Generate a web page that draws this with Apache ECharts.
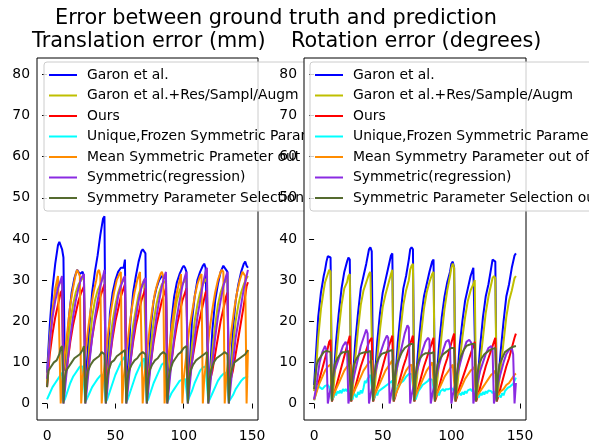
<!DOCTYPE html>
<html>
<head>
<meta charset="utf-8">
<script src="https://cdn.jsdelivr.net/npm/echarts@6/dist/echarts.min.js"></script>
<style>
html,body{margin:0;padding:0;background:#fff;}
#chart{width:589px;height:446px;}
</style>
</head>
<body>
<div id="chart"></div>
<script>
// ---------- text ----------
var supTitle = 'Error between ground truth and prediction';
var leftTitle = 'Translation error (mm)';
var rightTitle = 'Rotation error (degrees)';
var leftNames = ['Garon et al.', 'Garon et al.+Res/Sampl/Augm', 'Ours', 'Unique,Frozen Symmetric Parameter', 'Mean Symmetric Prameter out of', 'Symmetric(regression)', 'Symmetry Parameter Selection out of'];
var rightNames = ['Garon et al.', 'Garon et al.+Res/Sample/Augm', 'Ours', 'Unique,Frozen Symmetric Parameter', 'Mean Symmetry Parameter out of', 'Symmetric(regression)', 'Symmetric Parameter Selection out of'];
var xTicks = [0, 50, 100, 150];
var yTicks = [0, 10, 20, 30, 40, 50, 60, 70, 80];

// ---------- translation error (mm), [frame, value] ----------
var tGaron = [[0,7.5],[2,19],[4,28],[6,34],[8,38.5],[9,39.3],[10,39],[11,37.5],[12,35.5],[13,8],
[14,11],[16,21],[18,27],[20,30.5],[22,32.5],[23,32.3],[24,31.5],[26,32],[27,31],[28,4],
[29,9],[31,19],[33,27],[35,32],[37,36],[39,41],[41,45],[42,45.5],[43,5],
[44,7],[46,22],[48,27],[50,30],[52,32],[54,33],[56,33],[57,35],[58,4],
[59,7],[61,20],[63,27],[65,31],[67,34.5],[69,37],[70,37.5],[71,37.6],[72,36.5],[73,4],
[74,6],[76,19],[78,25],[80,28],[82,30],[84,31],[86,30.5],[87,31],[88,4],
[89,6],[91,20],[93,26],[95,29.5],[97,31.5],[99,33],[100,33.5],[101,33],[102,32],[103,4],
[104,6],[106,20],[108,26],[110,30],[112,32],[114,33.5],[115,34],[116,33],[117,33],[118,4],
[119,6],[121,18],[123,25],[125,29],[127,32],[129,33.5],[130,33.2],[131,32.5],[132,32],[133,4],
[134,6],[136,18],[138,25],[140,29],[142,32],[144,34],[145,34.5],[146,33.5],[147,33]];
var tGaronRes = [[0,6],[2,16],[4,23],[6,27],[8,29],[10,29.5],[11,30],[12,3],
[13,5],[15,14],[17,20],[19,24],[21,27],[23,29],[25,30],[27,31],[28,3],
[29,5],[31,14],[33,21],[35,25],[37,27.5],[39,29],[41,31],[42,31.5],[43,3],
[44,5],[46,15],[48,20],[50,24],[52,27],[54,29],[56,30],[57,30.5],[58,3],
[59,5],[61,13],[63,19],[65,23],[67,26.5],[69,28.5],[71,30],[72,30],[73,3],
[74,5],[76,14],[78,20],[80,24],[82,27],[84,29],[86,29.5],[87,30],[88,3],
[89,5],[91,15],[93,21],[95,25],[97,27.5],[99,29],[101,30],[102,30.5],[103,3],
[104,5],[106,14],[108,20],[110,24],[112,27],[114,29],[116,30],[117,30.5],[118,3],
[119,5],[121,13],[123,19],[125,24],[127,27],[129,29],[131,30],[132,31],[133,3],
[134,5],[136,14],[138,20],[140,24],[142,27],[144,29],[146,30.5],[147,31]];
var tOurs = [[0,4],[2,12],[4,17],[6,21],[8,24],[10,27],[11,27.5],[12,4],
[13,5],[15,10],[17,15],[19,19],[21,22],[23,25],[25,27],[27,28.5],[28,4],
[29,5],[31,11],[33,16],[35,20],[37,23],[39,26],[41,28],[42,29],[43,4],
[44,5],[46,11],[48,16],[50,20],[52,23],[54,26],[56,28],[57,29],[58,4],
[59,5],[61,10],[63,15],[65,19],[67,22],[69,25],[71,27],[72,28],[73,4],
[74,5],[76,10],[78,15],[80,19],[82,22],[84,25],[86,27],[87,28],[88,4],
[89,5],[91,10],[93,15],[95,19],[97,22],[99,25],[101,27],[102,28],[103,4],
[104,5],[106,10],[108,14],[110,18],[112,21],[114,24],[116,27],[117,27.5],[118,4],
[119,4],[121,8],[123,12],[125,16],[127,20],[129,23],[131,26],[132,27],[133,4],
[134,4],[136,8],[138,12],[140,16],[142,20],[144,24],[146,28.5],[147,29.5]];
var tUnique = [[0,1],[2,2.5],[4,4],[6,5],[8,6],[10,7],[11,7.5],[12,0.5],
[13,1],[15,3],[17,5],[19,6.5],[21,7.5],[23,8.5],[24,9],[26,9],[27,9.2],[28,0.5],
[29,1],[31,2.5],[33,4],[35,5],[37,6],[39,6.8],[41,7],[42,7],[43,0.5],
[44,1],[46,3],[48,5],[50,7],[52,8.5],[54,10],[56,11],[57,11.5],[58,0.5],
[59,1],[61,3],[63,5],[65,7],[67,8.5],[69,10],[71,11],[72,11.2],[73,0.5],
[74,1],[76,3],[78,5],[80,6.5],[82,8],[84,9.5],[86,10],[87,10.5],[88,0.5],
[89,1],[91,2.5],[93,3.5],[95,4.5],[97,5.5],[99,5.8],[101,6],[102,6.2],[103,0.5],
[104,1.5],[106,3],[108,5],[110,6.5],[112,8],[114,8.8],[116,9],[117,9],[118,0.5],
[119,1],[121,2.5],[123,4],[125,5.5],[127,6.5],[129,7.2],[131,7.5],[132,7.5],[133,0.5],
[134,1],[136,2],[138,3.5],[140,4.5],[142,5.5],[144,6.2],[146,6.5],[147,6.3]];
var tMean = [[0,5],[2,14],[4,22],[6,28],[8,31],[9,31],[10,0],
[11,5],[13,12],[15,18],[17,24],[19,28],[21,31.5],[22,32.5],[23,32.5],[24,31],[25,0],
[26,6],[28,12],[30,18],[32,23],[34,27],[36,30],[37,32],[38,32.5],[39,31],[40,0],
[41,6],[43,12],[45,18],[47,23],[49,27],[51,30],[53,31.5],[54,32],[55,0],
[56,6],[58,12],[60,18],[62,23],[64,27],[66,30],[68,32],[69,32],[70,0],
[71,6],[73,12],[75,18],[77,23],[79,27],[81,29.5],[83,31.5],[84,32],[85,31],[86,0],
[87,6],[89,12],[91,18],[93,23],[95,27],[97,30],[98,31.5],[99,0],
[100,6],[102,12],[104,18],[106,22],[108,26],[110,29],[112,31],[113,31.5],[114,0],
[115,6],[117,12],[119,18],[121,23],[123,27],[125,30],[127,32],[128,32.5],[129,32],[130,0],
[131,6],[133,12],[135,18],[137,23],[139,27],[141,30],[143,32],[144,32],[145,31],[146,0],[147,13]];
var tRegression = [[0,6],[2,15],[4,21],[6,25],[8,28],[10,30],[11,31],[12,0],
[13,3],[15,10],[17,16],[19,21],[21,25],[23,28],[25,30.5],[27,31.5],[28,0],
[29,3],[31,10],[33,16],[35,21],[37,25],[39,28.5],[41,31],[42,32.5],[43,0],
[44,3],[46,11],[48,17],[50,22],[52,26],[54,28.5],[56,30.5],[57,31],[58,0],
[59,3],[61,10],[63,16],[65,21],[67,25],[69,28],[71,30],[72,30.5],[73,0],
[74,3],[76,10],[78,16],[80,21],[82,25],[84,28.5],[86,31],[87,32],[88,0],
[89,3],[91,10],[93,16],[95,21],[97,25],[99,28.5],[101,31],[102,32],[103,0],
[104,3],[106,10],[108,16],[110,21],[112,25],[114,29],[116,32],[117,33],[118,0],
[119,3],[121,10],[123,16],[125,21],[127,25],[129,28.5],[131,31],[132,32],[133,0],
[134,3],[136,10],[138,16],[140,20],[142,24],[144,28],[146,31],[147,32.5]];
var tSelection = [[0,4],[1,8],[3,9],[5,10],[7,10.5],[9,12],[10,13.5],[11,14],[12,0],
[13,6],[14,8],[16,9],[18,10],[20,11],[22,11.5],[24,12],[26,13],[27,14],[28,0],
[29,6],[30,8],[32,9.5],[34,10.5],[36,11],[38,11.5],[40,12.5],[42,12],[43,0],
[44,6],[45,8],[47,10],[49,10.5],[51,11.5],[53,12],[55,12.5],[57,13],[58,0],
[59,6],[60,8],[62,9.5],[64,10.5],[66,11],[68,12],[70,12.5],[72,12],[73,0],
[74,6],[75,8],[77,9.5],[79,10.5],[81,11],[83,12],[85,12.5],[87,12],[88,0],
[89,6],[90,8],[92,10],[94,11],[96,12],[98,12.5],[100,13.5],[102,14],[103,0],
[104,6],[105,8],[107,9.5],[109,10.5],[111,11],[113,11.5],[115,12],[117,12.5],[118,0],
[119,6],[120,8],[122,10],[124,11],[126,11.5],[128,12],[130,12.5],[132,12],[133,0],
[134,6],[135,8],[137,10],[139,10.5],[141,11],[143,11.5],[145,12],[147,13]];

// ---------- rotation error (degrees), [frame, value] ----------
var rGaron = [[0,4.5],[1,10],[3,21],[5,27],[7,31],[8,32.5],[9,34.5],[10,35.8],[11,36],[12,35.5],[13,1],
[14,5],[16,15],[18,22],[20,28],[21,30],[22,32],[24,34.5],[25,35.5],[26,35],[27,1],
[28,5],[30,15],[32,22],[34,28],[36,31],[38,34],[40,37.5],[41,38],[42,37],[43,1],
[44,5],[46,15],[48,22],[50,27],[51,28.5],[52,30],[54,33],[56,36],[57,36.5],[58,1],
[59,5],[61,15],[63,22],[65,28],[67,31],[69,35],[70,37.5],[71,38],[72,37.5],[73,1],
[74,5],[76,14],[78,21],[80,26],[82,29],[84,32],[86,34.5],[87,35],[88,1],
[89,5],[91,14],[93,21],[95,26],[97,29.5],[99,32],[100,34],[101,34.5],[102,33],[103,1],
[104,5],[106,14],[108,20],[110,25],[112,28],[114,31],[116,33],[117,33.2],[118,1],
[119,5],[121,14],[123,21],[125,26],[127,29],[129,33],[130,35],[131,35.2],[132,34.5],[133,1],
[134,5],[136,13],[138,20],[140,26],[142,29],[144,33],[146,36],[147,36.5]];
var rGaronRes = [[0,3],[1,6],[3,16],[5,23],[7,27.5],[8,29.5],[9,30.5],[10,31.5],[11,32.5],[12,32],[13,1],
[14,3],[16,11],[18,18],[20,24],[22,28],[24,29.5],[25,31],[26,31.5],[27,1],
[28,3],[30,11],[32,18],[34,24],[36,27.5],[38,29.5],[40,31.5],[41,32],[42,32],[43,1],
[44,3],[46,11],[48,18],[50,23.5],[52,26.5],[54,29],[56,31.5],[57,32.5],[58,1],
[59,3],[61,11],[63,18],[65,24],[67,27.5],[69,30],[70,32.5],[71,33.5],[72,34],[73,1],
[74,3],[76,10],[78,17],[80,23],[82,27],[84,29.5],[86,31.5],[87,32],[88,1],
[89,3],[91,10],[93,17],[95,23],[97,27.5],[99,31],[100,33],[101,34],[102,33],[103,1],
[104,3],[106,10],[108,16],[110,21],[112,25],[114,27.5],[116,29],[117,30],[118,1],
[119,3],[121,10],[123,16],[125,22],[127,26],[129,29],[130,30.5],[131,31],[132,30.5],[133,1],
[134,3],[136,9],[138,15],[140,21],[142,25],[144,27.5],[146,30.5],[147,31]];
var rOurs = [[0,1],[2,3.5],[4,6],[6,8.5],[8,11],[10,13.5],[11,15],[12,15.5],[13,0.5],
[14,1.5],[16,4],[18,6.5],[20,9],[22,11.5],[24,14],[26,16.5],[27,0.5],
[28,1.5],[30,4],[32,6.5],[34,9],[36,11],[38,13],[40,15],[42,16],[43,0.5],
[44,1.5],[46,4],[48,6.5],[50,9],[52,11.5],[54,13.5],[56,15.5],[57,16.5],[58,0.5],
[59,1.5],[61,4],[63,6.5],[65,9],[67,11],[69,13.5],[71,15.5],[72,16.5],[73,0.5],
[74,1.5],[76,4],[78,6.5],[80,9],[82,11],[84,13],[86,15],[87,16],[88,0.5],
[89,1.5],[91,4],[93,6.5],[95,9],[97,11],[99,13.5],[101,16],[102,17],[103,0.5],
[104,1.5],[106,4],[108,6],[110,8],[112,10],[114,12],[116,14],[117,15],[118,0.5],
[119,1.5],[121,4],[123,6.5],[125,9],[127,11],[129,13],[131,15],[132,16],[133,0.5],
[134,1.5],[136,4],[138,6.5],[140,9],[142,11],[144,13.5],[146,16],[147,17]];
var rUnique = [[0,0.8],[1,2],[2,3.5],[3,4.5],[4,4],[5,4.2],[6,3.5],[7,3.8],[8,4.3],[9,4],[10,4.5],[11,4],[12,3],[13,1],
[14,1.5],[15,2.5],[16,2],[17,3],[18,2.5],[19,3.2],[20,2.5],[21,3.5],[22,3],[23,3.5],[24,3],[25,3.8],[26,3.5],[27,1.5],
[28,1],[29,2.5],[30,2],[31,1.5],[32,2.8],[33,2.2],[34,3.2],[35,2.5],[36,3.8],[37,5.5],[38,5],[39,6],[40,6.5],[41,7],[42,6.8],[43,1],
[44,1.5],[45,2.5],[46,2],[47,3],[48,2.8],[49,3.5],[50,3.2],[51,4],[52,3.8],[53,4.5],[54,4.2],[55,5],[56,4.8],[57,5.5],[58,1],
[59,2],[61,4],[62,4.5],[63,5],[64,4.8],[65,5.5],[66,6],[67,6.5],[68,6.8],[69,7.2],[70,7.5],[71,7.2],[72,7],[73,1.5],
[74,1],[75,2],[76,3],[77,3.5],[78,4],[79,4.5],[80,4.5],[81,5],[82,5.2],[83,5.5],[84,6],[85,6],[86,5.8],[87,6],[88,1.5],
[89,2],[90,2.5],[91,2],[92,3],[93,2.8],[94,3.5],[95,3],[96,3.5],[97,3.2],[98,3.5],[99,3.2],[100,3.8],[101,3.5],[102,3],[103,1.5],
[104,2],[105,1.6],[106,2.5],[107,2],[108,2.8],[109,2.2],[110,3],[111,2.5],[112,3.2],[113,2.8],[114,3.5],[115,3],[116,3.5],[117,3.2],[118,1.5],
[119,2],[120,1.5],[121,2.5],[122,2],[123,2.8],[124,2.2],[125,3],[126,2.5],[127,3.2],[128,2.8],[129,3],[130,2.5],[131,3],[132,2.8],[133,1.5],
[134,1.2],[135,2],[136,1.5],[137,2.5],[138,2],[139,3],[140,3.2],[141,3.8],[142,3.5],[143,4.2],[144,4],[145,4.8],[146,5.2],[147,6.3]];
var rMean = [[0,0.8],[2,3],[4,5],[6,6.5],[8,8],[10,9],[12,9.5],[13,1],
[14,2],[16,3.5],[18,5],[20,6.5],[22,8],[24,9],[26,9.5],[27,1],
[28,2],[30,3.5],[32,5],[34,6.5],[36,8],[38,9],[40,10],[42,10.5],[43,1],
[44,2],[46,3.5],[48,5],[50,6.5],[52,8],[54,9],[56,10],[57,10.5],[58,1],
[59,2],[61,3.5],[63,5],[65,6.5],[67,8],[69,9],[71,9.5],[72,9.5],[73,1],
[74,2],[76,3.5],[78,5],[80,6.5],[82,8],[84,9],[86,10],[87,10],[88,1],
[89,2],[91,3.5],[93,5],[95,6.5],[97,7.5],[99,8.5],[101,9.5],[102,9.5],[103,1],
[104,2],[106,3],[108,4.5],[110,6],[112,7],[114,8],[116,8.5],[117,9],[118,1],
[119,2],[121,3],[123,4],[125,5],[127,6],[129,7],[131,7.5],[132,8],[133,1.5],
[134,2],[136,3],[138,3.5],[140,4.5],[142,5],[144,6],[146,7],[147,7.3]];
var rRegression = [[0,1],[2,5],[4,10],[6,12.5],[8,14],[9,13],[10,0],
[11,2],[13,5],[15,8],[17,10],[19,12],[21,14],[23,15],[24,14],[25,0],
[26,2],[28,5],[30,8],[32,11],[34,14],[36,16],[38,18],[39,17],[40,0],
[41,2],[43,5],[45,8],[47,11],[49,13],[51,15],[53,16.5],[54,16],[55,0],
[56,2],[58,5],[60,8],[62,11],[64,14],[66,17],[68,19],[69,18.5],[70,0],
[71,2],[73,5],[75,8],[77,10.5],[79,13],[81,15],[83,16],[84,15.5],[85,0],
[86,2],[88,5],[90,8],[92,10.5],[94,13],[96,15],[98,15.5],[99,14],[100,0],
[101,2],[103,5],[105,8],[107,10.5],[109,13],[111,15],[113,15.5],[115,14.5],[116,0],
[117,2],[119,5],[121,8],[123,10],[125,12],[127,13.5],[129,14],[130,13],[131,0],
[132,2],[134,5],[136,7.5],[138,10],[140,12],[142,13],[144,13.5],[145,12],[146,0],[147,5]];
var rSelection = [[0,3.5],[1,7],[2,9.5],[3,10.5],[5,11.5],[7,12.5],[9,12.8],[10,12.5],[12,12.5],[13,0.5],
[14,7],[15,9.5],[17,11],[19,12],[21,12.5],[23,12.5],[25,12.8],[26,13],[27,0.5],
[28,7],[29,9.5],[31,11],[33,12],[35,12.3],[37,12.5],[39,12.5],[41,12.8],[42,12.5],[43,0.5],
[44,7],[45,9.5],[47,11],[49,12],[51,12.3],[53,12.5],[55,12.8],[57,13],[58,0.5],
[59,7],[60,9.5],[62,11],[64,12.5],[66,13.5],[68,14],[70,14.5],[72,14.5],[73,0.5],
[74,7],[75,9.5],[77,11],[79,11.8],[81,12.2],[83,12.2],[85,12.2],[87,12.5],[88,0.5],
[89,7],[90,9.5],[92,11],[94,12],[96,12.5],[98,13],[100,13.5],[102,13.5],[103,0.5],
[104,7],[105,9.5],[107,11.5],[109,13],[111,14],[113,14.3],[115,14.5],[117,14.5],[118,0.5],
[119,7],[120,9.5],[122,11],[124,12],[126,12.5],[128,13],[130,13.3],[132,13.5],[133,0.5],
[134,7],[135,9.5],[137,11],[139,12.5],[141,13],[143,13.5],[145,13.8],[147,14]];

var leftData = [tGaron, tGaronRes, tOurs, tUnique, tMean, tRegression, tSelection];
var rightData = [rGaron, rGaronRes, rOurs, rUnique, rMean, rRegression, rSelection];
var lineColors = ['#0000ff', '#bfbf00', '#ff0000', '#00ffff', '#ff8c00', '#8a2be2', '#556b2f'];

// ---------- build ----------
var FONT = 'DejaVu Sans';
function makeAxes(gi, z) {
  return {
    x: {
      type: 'value', gridIndex: gi, min: -7.35, max: 154.35, z: z,
      axisLine: {show: false},
      axisTick: {show: true, customValues: xTicks, length: 5, lineStyle: {color: '#000', width: 1}},
      axisLabel: {customValues: xTicks, margin: 9, color: '#000', fontSize: 13.9, fontFamily: FONT},
      splitLine: {show: false}
    },
    y: {
      type: 'value', gridIndex: gi, min: -4, max: 84, z: z,
      axisLine: {show: false},
      axisTick: {show: true, customValues: yTicks, length: 5, lineStyle: {color: '#000', width: 1}},
      axisLabel: {customValues: yTicks, margin: 7, color: '#000', fontSize: 13.9, fontFamily: FONT},
      splitLine: {show: false}
    }
  };
}
var la = makeAxes(0, 1), ra = makeAxes(1, 6);

var series = [];
leftData.forEach(function (d, i) {
  series.push({type: 'line', name: leftNames[i], xAxisIndex: 0, yAxisIndex: 0, data: d, z: 2,
    showSymbol: false, symbol: 'none', color: lineColors[i], itemStyle: {color: lineColors[i]},
    lineStyle: {color: lineColors[i], width: 2}, animation: false, silent: true});
});
rightData.forEach(function (d, i) {
  series.push({type: 'line', name: rightNames[i], xAxisIndex: 1, yAxisIndex: 1, data: d, z: 6,
    showSymbol: false, symbol: 'none', color: lineColors[i], itemStyle: {color: lineColors[i]},
    lineStyle: {color: lineColors[i], width: 2}, animation: false, silent: true});
});

function makeLegend(names, left, z) {
  return {
    show: true, orient: 'vertical', left: left, top: 62, z: z,
    selectedMode: false, icon: 'rect', itemWidth: 28, itemHeight: 2, itemGap: 4.5,
    padding: [5, 8, 5, 5],
    backgroundColor: 'rgba(255,255,255,0.8)', borderColor: '#cccccc', borderWidth: 1, borderRadius: 3,
    textStyle: {fontSize: 13.9, fontFamily: FONT, color: '#000', lineHeight: 16, padding: [0, 0, 0, 5]},
    data: names
  };
}

var titleStyle = {fontSize: 20.8, fontWeight: 'normal', color: '#000', fontFamily: FONT, lineHeight: 24};
var option = {
  backgroundColor: '#ffffff',
  animation: false,
  title: [
    {text: supTitle, left: 55, top: 7, padding: 0, textStyle: titleStyle},
    {text: leftTitle, left: 32, top: 30, padding: 0, textStyle: titleStyle},
    {text: rightTitle, left: 291, top: 30, padding: 0, textStyle: titleStyle}
  ],
  grid: [
    {left: 37, top: 58, width: 221, height: 362, show: true, backgroundColor: 'transparent', borderColor: '#000', borderWidth: 1, z: 0},
    {left: 304, top: 58, width: 222, height: 362, show: true, backgroundColor: '#ffffff', borderColor: '#000', borderWidth: 1, z: 5}
  ],
  xAxis: [la.x, ra.x],
  yAxis: [la.y, ra.y],
  legend: [makeLegend(leftNames, 44, 4), makeLegend(rightNames, 310, 8)],
  series: series
};

var chart = echarts.init(document.getElementById('chart'), null, {renderer: 'canvas', width: 589, height: 446});
chart.setOption(option);
</script>
</body>
</html>
